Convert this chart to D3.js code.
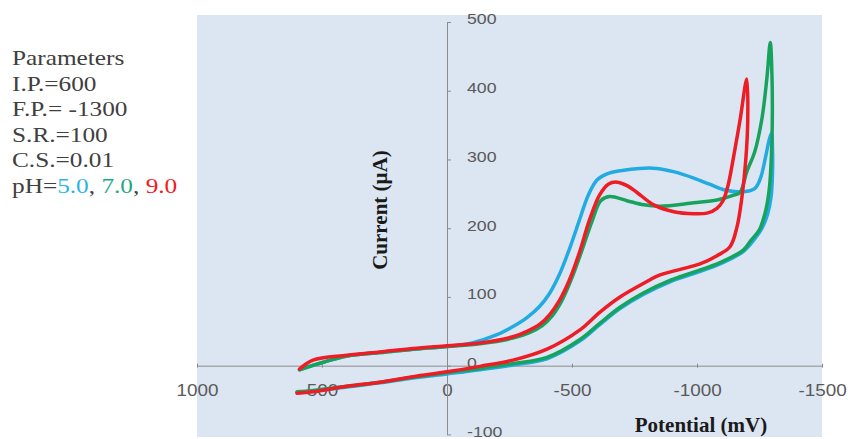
<!DOCTYPE html>
<html>
<head>
<meta charset="utf-8">
<script src="https://cdn.jsdelivr.net/npm/d3@7"></script>
<style>
  html, body { margin: 0; padding: 0; background: #ffffff; }
  svg { display: block; }
</style>
</head>
<body>
<svg id="chart" width="848" height="439"></svg>
<script>
// ---------- data ----------
const xTicks = [1000, 500, 0, -500, -1000, -1500];
const xTickLabels = ["1000", "500", "0", "-500", "-1000", "-1500"];
const yTicks = [-100, 0, 100, 200, 300, 400, 500];
const yTickLabels = ["-100", "0", "100", "200", "300", "400", "500"];

const paramLines = ["Parameters", "I.P.=600", "F.P.= -1300", "S.R.=100", "C.S.=0.01"];
const phLabels = ["5.0", "7.0", "9.0"];
const seriesNames = ["pH 5.0", "pH 7.0", "pH 9.0"];

// [potential mV, current µA] — forward sweep (upper) then reverse (lower)
const ph5 = [
  [590,-6],[400,14],[268,19],[136,24],[0,28],[-100,33],[-200,45],[-264,57],[-320,70],
  [-370,86],[-410,105],[-450,133],[-490,170],[-530,212],[-565,248],[-600,270],[-640,279],
  [-700,284],[-770,287],[-840,287],[-910,282],[-987,273],[-1050,264],[-1107,256],[-1185,253],
  [-1232,258],[-1255,274],[-1275,305],[-1290,330],[-1298,338],
  [-1302,315],[-1302,280],[-1296,245],[-1282,220],[-1260,200],[-1230,184],[-1185,166],
  [-1092,148],[-987,134],[-892,122],[-787,104],[-692,83],[-612,60],[-532,36],[-400,10],
  [-264,1],[-132,-6],[0,-12],[136,-18],[268,-25],[400,-31],[536,-37],[600,-39]
];
const ph7 = [
  [590,-6],[400,14],[268,19],[136,24],[0,28],[-132,32],[-264,40],[-330,48],[-380,58],
  [-420,72],[-460,95],[-500,128],[-540,168],[-580,210],[-615,240],[-650,246],[-720,240],
  [-787,234],[-852,232],[-987,237],[-1080,241],[-1147,248],[-1172,252],[-1200,283],
  [-1230,310],[-1260,360],[-1280,420],[-1293,470],
  [-1300,420],[-1301,350],[-1298,310],[-1290,260],[-1275,226],[-1250,198],[-1215,182],
  [-1185,168],[-1092,150],[-987,136],[-892,124],[-787,106],[-692,85],[-612,62],[-532,38],
  [-400,12],[-264,3],[-132,-4],[0,-10],[136,-17],[268,-24],[400,-30],[536,-36],[600,-38]
];
const ph9 = [
  [590,-5],[536,8],[400,15],[268,20],[136,25],[0,29],[-132,33],[-264,42],[-320,50],
  [-370,60],[-410,74],[-450,95],[-490,125],[-530,165],[-570,212],[-610,248],[-645,264],
  [-680,267],[-720,262],[-760,252],[-827,234],[-907,224],[-987,221],[-1040,222],[-1080,229],
  [-1104,240],[-1124,262],[-1144,299],[-1172,357],[-1199,417],
  [-1203,357],[-1195,299],[-1180,246],[-1160,202],[-1132,173],[-1080,160],[-1012,148],
  [-852,132],[-787,120],[-692,100],[-612,78],[-532,52],[-400,24],[-264,8],[-132,-1],
  [0,-9],[136,-16],[268,-24],[400,-30],[536,-38],[600,-40]
];
const seriesData = [ph5, ph7, ph9];
const seriesColors = ["#22aae2", "#17a35e", "#ee1c25"];
const phColors = ["#2ab4ea", "#1fa985", "#ee1c25"];

// ---------- chart ----------
const svg = d3.select("#chart");
const x = d3.scaleLinear().domain([1000, -1500]).range([197, 822]);
const y = d3.scaleLinear().domain([-100, 500]).range([434.4, 22]);

// plot background
svg.append("rect")
  .attr("x", 197).attr("y", 15)
  .attr("width", 625).attr("height", 422)
  .attr("fill", "#dce6f2");

const axisColor = "#8c8c8c";
const tickTextColor = "#595959";

// x axis (line at y=0, labels low)
const gx = svg.append("g")
  .attr("transform", `translate(0,${y(0)})`)
  .call(d3.axisBottom(x).tickValues(xTicks).tickSize(4).tickSizeOuter(0)
        .tickFormat((d, i) => xTickLabels[i]));
gx.select(".domain").attr("stroke", axisColor);
gx.selectAll(".tick line").attr("stroke", axisColor).attr("y1", -2).attr("y2", 2);
gx.selectAll(".tick text")
  .attr("y", 19).attr("dy", "0.71em")
  .attr("fill", tickTextColor)
  .attr("font-family", "'Liberation Sans', Arial, sans-serif")
  .attr("font-size", 16)
  .attr("transform", "scale(1.18,1)");

// y axis (line at x=0, labels on the right)
const gy = svg.append("g")
  .attr("transform", `translate(${x(0)},0)`)
  .call(d3.axisRight(y).tickValues(yTicks).tickSize(4).tickSizeOuter(0)
        .tickFormat((d, i) => yTickLabels[i]));
gy.select(".domain").attr("stroke", axisColor);
gy.selectAll(".tick line").attr("stroke", axisColor);
gy.selectAll(".tick text")
  .attr("x", 20 / 1.18)
  .attr("dy", "0.12em")
  .attr("text-anchor", "start")
  .attr("fill", tickTextColor)
  .attr("font-family", "'Liberation Sans', Arial, sans-serif")
  .attr("font-size", 15)
  .attr("transform", "scale(1.18,1)");

// axis titles
svg.append("text")
  .attr("transform", "translate(387,210) rotate(-90)")
  .attr("text-anchor", "middle")
  .attr("font-family", "'Liberation Serif', 'Times New Roman', serif")
  .attr("font-weight", "bold")
  .attr("font-size", 21)
  .attr("fill", "#1a1a1a")
  .text("Current (µA)");

svg.append("text")
  .attr("x", 701).attr("y", 432)
  .attr("text-anchor", "middle")
  .attr("font-family", "'Liberation Serif', 'Times New Roman', serif")
  .attr("font-weight", "bold")
  .attr("font-size", 21)
  .attr("fill", "#1a1a1a")
  .text("Potential (mV)");

// series lines
const line = d3.line()
  .x(d => x(d[0]))
  .y(d => y(d[1]))
  .curve(d3.curveCatmullRom.alpha(0.5));

svg.append("g").selectAll("path")
  .data(seriesData)
  .join("path")
  .attr("d", line)
  .attr("fill", "none")
  .attr("stroke", (d, i) => seriesColors[i])
  .attr("stroke-width", 3.5)
  .attr("stroke-linejoin", "round")
  .attr("stroke-linecap", "round")
  .append("title").text((d, i) => seriesNames[i]);

// parameter text block
const pg = svg.append("g")
  .attr("transform", "translate(12,0) scale(1.15,1)")
  .attr("font-family", "'Liberation Serif', 'Times New Roman', serif")
  .attr("font-size", 22)
  .attr("fill", "#404040");

pg.selectAll("text.param")
  .data(paramLines)
  .join("text")
  .attr("class", "param")
  .attr("x", 0)
  .attr("y", (d, i) => 65 + i * 25.6)
  .text(d => d);

const ph = pg.append("text").attr("x", 0).attr("y", 65 + 5 * 25.6);
ph.append("tspan").text("pH=");
phLabels.forEach((p, i) => {
  ph.append("tspan").attr("fill", phColors[i]).text(p);
  if (i < phLabels.length - 1) ph.append("tspan").text(", ");
});
</script>
</body>
</html>
